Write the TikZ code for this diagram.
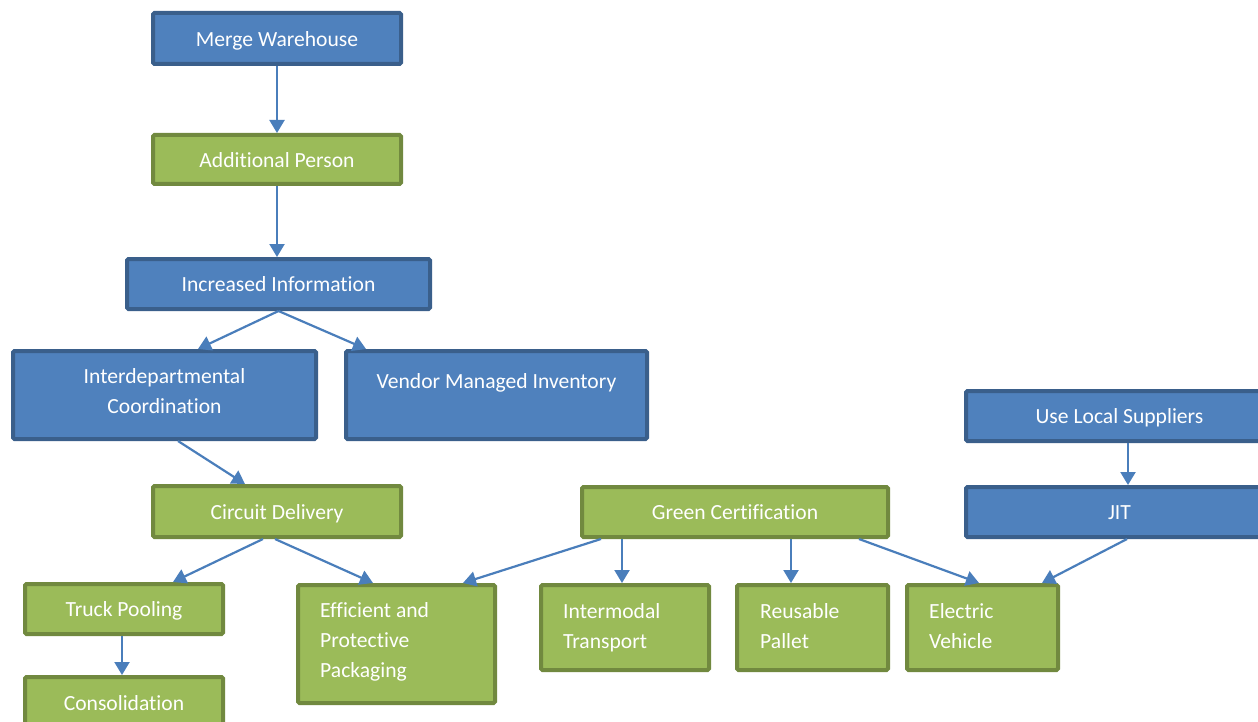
\documentclass[tikz,border=0pt]{standalone}
\usepackage{fontspec}
\setmainfont{Carlito}[Ligatures=NoCommon]
\usetikzlibrary{arrows.meta,calc}
\definecolor{bfill}{HTML}{4F81BD}
\definecolor{bdraw}{HTML}{3A5F8B}
\definecolor{gfill}{HTML}{9BBB59}
\definecolor{gdraw}{HTML}{71893F}
\definecolor{arrcol}{HTML}{4A7EBB}
\begin{document}
\begin{tikzpicture}[x=1pt,y=-1pt,
  box/.style={rectangle, line width=4pt, rounded corners=1.5pt, text=white,
    font=\fontsize{21.6}{30}\selectfont, inner sep=0pt,
    text height=16.4pt, text depth=1pt},
  bluebox/.style={box, fill=bfill, draw=bdraw},
  greenbox/.style={box, fill=gfill, draw=gdraw},
  txt/.style={text=white, font=\fontsize{21.6}{30}\selectfont, inner sep=0pt},
  conn/.style={draw=arrcol, line width=2.2pt, -{Triangle[length=13pt,width=15pt]}}
]
\useasboundingbox (0,0) rectangle (1258,722);
\clip (0,0) rectangle (1258,722);
\fill[white] (0,0) rectangle (1258,722);

% boxes
\node[bluebox,  minimum width=248pt, minimum height=51pt] (mw)  at (277,38.5)    {Merge Warehouse};
\node[greenbox, minimum width=248pt, minimum height=49pt] (ap)  at (277,159.5)   {Additional Person};
\node[bluebox,  minimum width=303pt, minimum height=50pt] (inc) at (278.5,284)   {Increased Information};
\node[bluebox,  minimum width=303pt, minimum height=88pt] (idc) at (164.5,395)   {};
\node[bluebox,  minimum width=301pt, minimum height=88pt] (vmi) at (496.5,395)   {};
\node[greenbox, minimum width=248pt, minimum height=51pt] (cd)  at (277,511.5)   {Circuit Delivery};
\node[greenbox, minimum width=198pt, minimum height=50pt] (tp)  at (124,609)     {Truck Pooling};
\node[greenbox, minimum width=198pt, minimum height=51pt] (con) at (124,702.5)   {Consolidation};
\node[greenbox, minimum width=197pt, minimum height=118pt] (eff) at (396.5,644)  {};
\node[greenbox, minimum width=306pt, minimum height=50pt] (gc)  at (735,512)     {Green Certification};
\node[greenbox, minimum width=168pt, minimum height=85pt] (im)  at (625,627.5)   {};
\node[greenbox, minimum width=151pt, minimum height=85pt] (rp)  at (812.5,627.5) {};
\node[greenbox, minimum width=151pt, minimum height=85pt] (ev)  at (982.5,627.5) {};
\node[bluebox,  minimum width=307pt, minimum height=50pt] (uls) at (1119.5,416)  {Use Local Suppliers};
\node[bluebox,  minimum width=307pt, minimum height=50pt] (jit) at (1119.5,512)  {JIT};

% texts of the taller boxes (anchored at the baseline of the last line)
\node[txt, align=center, anchor=base] (idc-t) at (164.5,413.3) {Interdepartmental\\Coordination};
\node[txt, anchor=base] (vmi-t) at (496.5,388) {Vendor Managed Inventory};
\node[txt, align=left, anchor=base west] (eff-t) at (320,677.7) {Efficient and\\Protective\\Packaging};
\node[txt, align=left, anchor=base west] (im-t) at (563,648.3) {Intermodal\\Transport};
\node[txt, align=left, anchor=base west] (rp-t) at (760,648.3) {Reusable\\Pallet};
\node[txt, align=left, anchor=base west] (ev-t) at (929,648.3) {Electric\\Vehicle};

% connectors
\draw[conn] (mw.south) -- (ap.north);
\draw[conn] (ap.south) -- (ap.south |- inc.north);
\draw[conn] (inc.south) -- ([xshift=33.5pt]idc.north);
\draw[conn] (inc.south) -- ([xshift=-130.5pt]vmi.north);
\draw[conn] ([xshift=13.5pt]idc.south) -- ([xshift=-32pt]cd.north);
\draw[conn] ([xshift=-14pt]cd.south) -- ([xshift=49pt]tp.north);
\draw[conn] ([xshift=-2pt]cd.south) -- ([xshift=-23.5pt]eff.north);
\draw[conn] ([xshift=-2pt]tp.south) -- ([xshift=-2pt]con.north);
\draw[conn] ([xshift=-134pt]gc.south) -- ([xshift=66.5pt]eff.north);
\draw[conn] ([xshift=-113pt]gc.south) -- ([xshift=-3pt]im.north);
\draw[conn] ([xshift=56pt]gc.south) -- ([xshift=-21.5pt]rp.north);
\draw[conn] ([xshift=124pt]gc.south) -- ([xshift=-3.5pt]ev.north);
\draw[conn] ([xshift=8.5pt]uls.south) -- ([xshift=8.5pt]jit.north);
\draw[conn] ([xshift=7.5pt]jit.south) -- ([xshift=59.5pt]ev.north);
\end{tikzpicture}
\end{document}
